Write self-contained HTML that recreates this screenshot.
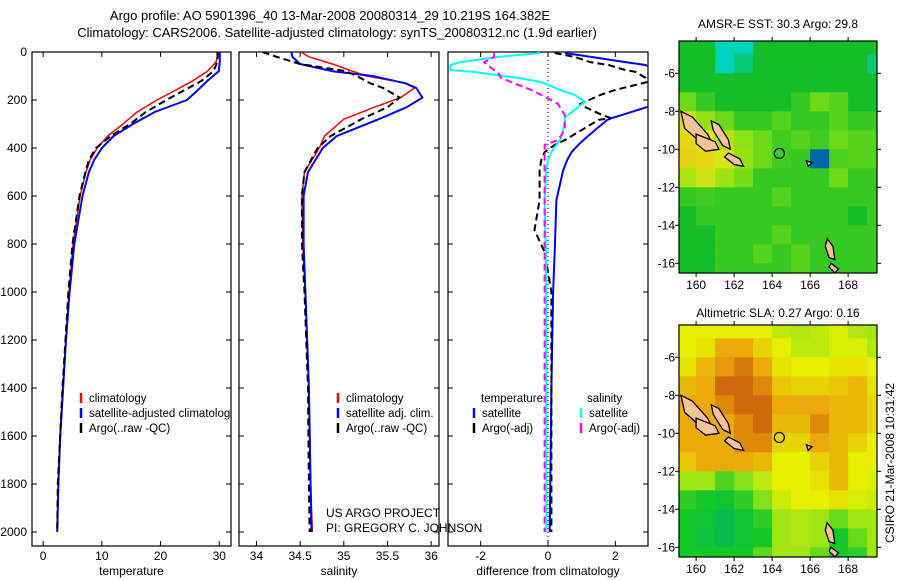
<!DOCTYPE html>
<html><head><meta charset="utf-8"><style>
html,body{margin:0;padding:0;background:#fff;}
svg{display:block;font-family:"Liberation Sans",sans-serif;}
text{fill:#000;}
</style></head><body>
<svg id="fig" width="900" height="580" viewBox="0 0 900 580" xmlns="http://www.w3.org/2000/svg">
<text x="330" y="20" font-size="13" text-anchor="middle">Argo profile: AO 5901396_40 13-Mar-2008 20080314_29 10.219S 164.382E</text>
<text x="337" y="37" font-size="13" text-anchor="middle">Climatology: CARS2006. Satellite-adjusted climatology: synTS_20080312.nc (1.9d earlier)</text>
<g id="panels"></g>
<g id="maps"></g>
<text x="326" y="517" font-size="12">US ARGO PROJECT</text>
<text x="326" y="532" font-size="12">PI: GREGORY C. JOHNSON</text>
<text transform="translate(894,463) rotate(-90)" font-size="12" text-anchor="middle">CSIRO 21-Mar-2008 10:31:42</text>
</svg>
<script>
// ---- profile data ----
const depthTicks = [0,200,400,600,800,1000,1200,1400,1600,1800,2000];
const tDepth = [0,40,80,120,160,200,250,300,350,400,450,500,600,800,1000,1200,1400,1600,1800,2000];
const tClim = [29.8,29.5,28,25.5,22.5,19.4,16,13.6,11,9.2,8,7.3,6.3,5.1,4.4,3.9,3.4,2.9,2.6,2.4];
const tSat  = [30.1,30.1,29.9,28,26.3,24.5,19,15.3,12,10,8.7,7.8,6.7,5.3,4.5,3.9,3.4,2.9,2.6,2.4];
const tArgo = [29.7,29.7,29,27,24,21,17.5,14.8,11.5,9,7.8,7.2,6.2,5.0,4.3,3.8,3.3,2.9,2.5,2.4];
const tTicks = [0,10,20,30];
const sDepth = [0,20,50,80,100,130,150,190,230,280,350,400,500,600,800,1000,1400,1800,2000];
const sClim = [34.51,34.6,34.87,35.1,35.26,35.72,35.81,35.65,35.35,35.0,34.78,34.72,34.55,34.52,34.53,34.56,34.6,34.62,34.64];
const sSat  = [34.4,34.41,34.5,34.87,35.33,35.7,35.83,35.9,35.72,35.4,34.92,34.76,34.59,34.54,34.54,34.56,34.6,34.62,34.63];
const sArgo = [34.07,34.23,34.5,35.03,35.15,35.3,35.45,35.64,35.5,35.2,34.85,34.7,34.55,34.52,34.52,34.55,34.59,34.6,34.61];
const sTicks = [34,34.5,35,35.5,36];
const dDepth = [4,21,42,54,75,83,108,125,158,179,208,217,229,262,275,283,325,367,387,417,450,492,617,742,833,1000,1400,2000];
const dTempSat  = [0.5,1.3,2.3,2.9,3.2,3.2,3.2,3.2,3.2,3.2,3.2,3.1,2.95,2.2,1.9,1.76,1.4,1.05,0.9,0.7,0.57,0.45,0.25,0.22,0.2,0.15,0.1,0.05];
const dTempArgo = [0.2,0.8,1.25,1.8,2.3,2.6,2.9,2.95,2.0,1.55,1.1,0.95,1.1,1.6,1.85,1.5,1.0,0.5,0.2,-0.1,-0.2,-0.25,-0.25,-0.4,-0.1,0.1,0.1,0.1];
const dSalSat   = [-0.24,-1.5,-2.6,-2.9,-2.9,-2.2,-0.9,-0.2,0.36,0.8,1.1,1.0,0.9,0.6,0.5,0.5,0.45,0.36,0.25,0.1,0.0,-0.05,-0.1,-0.08,-0.06,-0.05,-0.05,-0.05];
const dSalArgo  = [-1.6,-1.6,-1.9,-1.8,-1.6,-1.5,-1.4,-1.1,-0.5,-0.2,0.2,0.3,0.35,0.5,0.5,0.5,0.5,0.3,-0.1,-0.1,-0.1,-0.1,-0.1,-0.1,-0.1,-0.1,-0.1,-0.1];
const dTicks = [-2,0,2];
// ---- map data (1-degree cells, rows from -4 to -17 lat, cols 159..170 lon) ----
const mapLon0 = 159, mapLat0 = -4;
const sstGrid = [
[0,0,-1,-1,0,0,0,0,0,0,0],
[0,0,-1,-0.5,0,0,0,0,0,0,-0.5],
[0,0,0,0,0,0,0,0,0,0,0],
[0.8,0.3,0,0,0,0,0.3,0.8,0.6,0,0],
[1.8,1.2,0.8,0.3,0.3,0.6,0.3,0.3,0.6,0.3,0.3],
[2.2,2,1.5,1.1,0.8,0.4,0.6,0.4,0.8,0.6,0.6],
[2.3,2.2,1.9,1.2,0.8,0.4,0.3,-1.5,0.5,0.6,0.6],
[1.4,1.8,1.3,0.9,0.3,0.3,0.3,0.3,0.8,0.3,0.3],
[0.3,0.4,0.3,0.3,0.3,0.6,0.3,0.3,0.3,0.3,0.3],
[0,0.3,0.3,0.3,0.3,0.3,0.3,0.3,0.3,0,0.3],
[0,0,0.3,0.3,0.3,0.6,0.3,0.3,0.3,0.3,0.3],
[0,0,0.3,0.3,0.6,0.3,0.6,0.3,0.3,0.3,0.3],
[0,0,0.3,0.3,0.3,0.3,0.6,0.3,0.3,0.3,0.3]];
const slaGrid = [
[2,2,2,2,2,1.4,1.2,1.4,1.8,1.2,1],
[2,2.2,3,3,2.4,2,1.4,1.4,1.8,1.8,1.2],
[2.2,2.8,3.2,3.6,3,2.2,2,2,2.2,2.2,2],
[2.8,3,3.8,3.8,3.4,2.6,2.4,2.4,2.6,2.8,2.2],
[3,3,3.4,3.8,3.8,3,3,3,2.8,2.8,2.4],
[3,3,3,3.4,3.8,2.8,2.8,3.4,2.8,2.8,2.4],
[3,3,3,3.4,3.4,2.4,2.4,3,2.8,2.4,2],
[2.6,3,3,3,2.8,2,2,2.4,2.8,2,2],
[1,1,0.4,0.8,1.4,2,2,2.2,2.8,2,1.8],
[0.2,0,-0.2,0.2,0.8,1.6,2,2,2.2,1.8,1.6],
[0,-0.2,-0.6,-0.2,0.2,1,1.2,1,0.6,1,1],
[0,-0.3,-0.6,-0.2,0,1,1.2,1,0,0.6,1],
[0,0,0,0,0.5,1,1,0.6,0,0.2,1]];
const islands = [
 [[159.2,-8.0],[159.8,-8.3],[160.6,-9.2],[160.9,-9.8],[160.2,-9.6],[159.4,-8.9]],
 [[160.0,-9.2],[161.0,-9.6],[161.2,-10.0],[160.5,-10.1],[160.0,-9.7]],
 [[160.8,-8.5],[161.2,-8.7],[161.7,-9.5],[161.8,-10.0],[161.4,-9.8],[160.9,-9.0]],
 [[161.7,-10.2],[162.3,-10.5],[162.5,-10.9],[162.0,-10.8],[161.5,-10.4]],
 [[166.9,-14.7],[167.2,-15.1],[167.3,-15.8],[167.0,-15.7],[166.8,-15.1]],
 [[167.1,-16.0],[167.5,-16.3],[167.3,-16.5],[167.0,-16.2]],
 [[165.8,-10.6],[166.1,-10.7],[165.9,-10.9]]
];
const argoPos = [164.382, -10.219];

const NS = 'http://www.w3.org/2000/svg';
const fig = document.getElementById('fig');
function mk(tag, attrs, parent){ const e=document.createElementNS(NS,tag); for(const k in attrs) e.setAttribute(k,attrs[k]); (parent||fig).appendChild(e); return e; }
const yTop=52, yBot=546, pxPerM=0.24;
function yD(d){ return yTop + d*pxPerM; }

function panel(name, x0, x1, vmin, vmax, ticks, label, showY){
  const g = mk('g',{}, document.getElementById('panels'));
  
  
  const xs = v => x0 + (v-vmin)/(vmax-vmin)*(x1-x0);
  const r = mk('rect',{x:x0,y:yTop,width:x1-x0,height:yBot-yTop,fill:'none',stroke:'#000','stroke-width':1.2},g);
  
  
  depthTicks.forEach(d=>{
    const y=yD(d);
    mk('line',{x1:x0,y1:y,x2:x0+5,y2:y,stroke:'#000'},g);
    mk('line',{x1:x1,y1:y,x2:x1-5,y2:y,stroke:'#000'},g);
    if(showY){
      const t=mk('text',{x:x0-5,y:y+4,'font-size':12,'text-anchor':'end'},g);
      t.textContent=d;
      
      
    }
  });
  ticks.forEach(v=>{
    const x=xs(v);
    mk('line',{x1:x,y1:yTop,x2:x,y2:yTop+5,stroke:'#000'},g);
    mk('line',{x1:x,y1:yBot,x2:x,y2:yBot-5,stroke:'#000'},g);
    const t=mk('text',{x:x,y:yBot+14,'font-size':12,'text-anchor':'middle'},g);
    t.textContent=v;
    
    
  });
  const lt=mk('text',{x:(x0+x1)/2,y:575,'font-size':12,'text-anchor':'middle'},g);
  lt.textContent=label;
  
  
  const cp=mk('clipPath',{id:'clip-'+name},g);
  mk('rect',{x:x0,y:yTop,width:x1-x0,height:yBot-yTop},cp);
  return {g,xs,clip:'url(#clip-'+name+')'};
}
function series(P, depths, vals, color, dash, w, nm){
  const pts = depths.map((d,i)=>P.xs(vals[i]).toFixed(1)+','+yD(d).toFixed(1)).join(' ');
  const pl = mk('polyline',{points:pts,fill:'none',stroke:color,'stroke-width':w,'stroke-dasharray':dash||'none','clip-path':P.clip,'stroke-linejoin':'round'},P.g);
  
  
}
function legend(g, x, y, color, label, nm, clip){
  mk('line',{x1:x,y1:y-9,x2:x,y2:y+1,stroke:color,'stroke-width':2.5},g);
  const t=mk('text',{x:x+8,y:y,'font-size':11.5},g);
  if(clip) t.setAttribute('clip-path', clip);
  t.textContent=label;
  
  
}

const P1 = panel('temperature', 32, 231, -1.9, 32, tTicks, 'temperature', true);
series(P1, tDepth, tClim, '#f00', null, 1.5, 'temp-climatology-line');
series(P1, tDepth, tSat, '#00f', null, 2, 'temp-satellite-line');
series(P1, tDepth, tArgo, '#000', '7,4', 2, 'temp-argo-line');
legend(P1.g, 81, 402, '#f00', 'climatology', 'legend-climatology');
legend(P1.g, 81, 417, '#00f', 'satellite-adjusted climatology', 'legend-satellite', P1.clip);
legend(P1.g, 81, 432, '#000', 'Argo(..raw -QC)', 'legend-argo');

const P2 = panel('salinity', 239, 439, 33.8, 36.09, sTicks, 'salinity', false);
series(P2, sDepth, sClim, '#f00', null, 1.5, 'sal-climatology-line');
series(P2, sDepth, sSat, '#00f', null, 2, 'sal-satellite-line');
series(P2, sDepth, sArgo, '#000', '7,4', 2, 'sal-argo-line');
legend(P2.g, 338, 402, '#f00', 'climatology', 'legend-climatology');
legend(P2.g, 338, 417, '#00f', 'satellite adj. clim.', 'legend-satellite');
legend(P2.g, 338, 432, '#000', 'Argo(..raw -QC)', 'legend-argo');

const P3 = panel('difference', 448, 648, -2.97, 2.97, dTicks, 'difference from climatology', false);
mk('line',{x1:P3.xs(0),y1:yTop,x2:P3.xs(0),y2:yBot,stroke:'#000','stroke-dasharray':'1,3'},P3.g);
series(P3, dDepth, dTempSat, '#00f', null, 2, 'diff-temp-satellite-line');
series(P3, dDepth, dTempArgo, '#000', '7,4', 2, 'diff-temp-argo-line');
series(P3, dDepth, dSalSat, '#0ff', null, 2, 'diff-sal-satellite-line');
series(P3, dDepth, dSalArgo, '#f0f', '7,4', 2, 'diff-sal-argo-line');
const tl=mk('text',{x:481,y:402,'font-size':11.5},P3.g); tl.textContent='temperature';


const sl=mk('text',{x:587,y:402,'font-size':11.5},P3.g); sl.textContent='salinity';


legend(P3.g, 474, 417, '#00f', 'satellite', 'legend-temp-satellite');
legend(P3.g, 474, 432, '#000', 'Argo(-adj)', 'legend-temp-argo');
legend(P3.g, 581, 417, '#0ff', 'satellite', 'legend-sal-satellite');
legend(P3.g, 581, 432, '#f0f', 'Argo(-adj)', 'legend-sal-argo');

// ---- maps ----
function lerp(a,b,t){return a.map((v,i)=>Math.round(v+(b[i]-v)*t));}
function scaleColor(stops, v){
  for(let i=0;i<stops.length-1;i++){
    if(v<=stops[i+1][0]){ const t=Math.max(0,(v-stops[i][0])/(stops[i+1][0]-stops[i][0])); return 'rgb('+lerp(stops[i][1],stops[i+1][1],t).join(',')+')'; }
  }
  return 'rgb('+stops[stops.length-1][1].join(',')+')';
}
const sstStops=[[-2,[0,0,140]],[-1,[0,210,190]],[0,[20,190,40]],[1,[130,225,20]],[2,[225,230,20]],[3,[240,160,20]]];
const slaStops=[[-1,[0,180,100]],[0,[20,200,40]],[1,[160,230,20]],[2,[230,240,0]],[3,[235,170,10]],[4,[200,90,10]]];
function drawMap(name, y0, y1, grid, stops, title, titleY){
  const x0=679, x1=877;
  const g=mk('g',{},document.getElementById('maps'));
  
  
  const ppd=19, lonL=159.1, latT=-4.3;
  const lx = lon => x0 + (lon-lonL)*ppd;
  const ly = lat => y0 + (latT-lat)*ppd;
  const cp=mk('clipPath',{id:'mclip-'+name},g);
  mk('rect',{x:x0,y:y0,width:x1-x0,height:y1-y0},cp);
  const cg=mk('g',{'clip-path':'url(#mclip-'+name+')'},g);
  grid.forEach((row,r)=>row.forEach((v,c)=>{
    const cell=mk('rect',{x:lx(mapLon0+c).toFixed(1),y:ly(mapLat0-r).toFixed(1),width:ppd+0.6,height:ppd+0.6,fill:scaleColor(stops,v)},cg);
    
    
  }));
  islands.forEach(poly=>{
    const p=mk('polygon',{points:poly.map(q=>lx(q[0]).toFixed(1)+','+ly(q[1]).toFixed(1)).join(' '),fill:'#f5c39a',stroke:'#000','stroke-width':1.3},cg);
    
    
  });
  const circ=mk('circle',{cx:lx(argoPos[0]),cy:ly(argoPos[1]),r:5,fill:'none',stroke:'#000','stroke-width':1.2},g);
  
  
  const fr=mk('rect',{x:x0,y:y0,width:x1-x0,height:y1-y0,fill:'none',stroke:'#000','stroke-width':1.2},g);
  
  
  [160,162,164,166,168].forEach(lon=>{
    const x=lx(lon);
    mk('line',{x1:x,y1:y0,x2:x,y2:y0-4,stroke:'#000'},g);
    mk('line',{x1:x,y1:y1,x2:x,y2:y1+4,stroke:'#000'},g);
    const t=mk('text',{x:x,y:y1+16,'font-size':12,'text-anchor':'middle'},g); t.textContent=lon;
    
    
  });
  [-6,-8,-10,-12,-14,-16].forEach(lat=>{
    const y=ly(lat);
    mk('line',{x1:x0,y1:y,x2:x0-4,y2:y,stroke:'#000'},g);
    mk('line',{x1:x1,y1:y,x2:x1+4,y2:y,stroke:'#000'},g);
    const t=mk('text',{x:x0-4,y:y+4,'font-size':12,'text-anchor':'end'},g); t.textContent=lat;
    
    
  });
  const tt=mk('text',{x:(x0+x1)/2,y:titleY,'font-size':12,'text-anchor':'middle'},g); tt.textContent=title;
  
  
}
drawMap('sst', 41, 273, sstGrid, sstStops, 'AMSR-E SST: 30.3 Argo: 29.8', 28);
drawMap('sla', 325, 557, slaGrid, slaStops, 'Altimetric SLA: 0.27 Argo: 0.16', 317);
</script>
</body></html>
